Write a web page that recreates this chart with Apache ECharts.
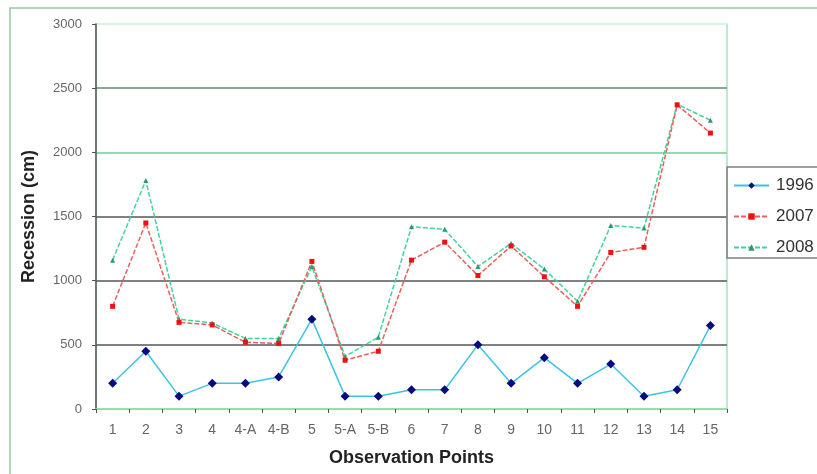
<!DOCTYPE html>
<html>
<head>
<meta charset="utf-8">
<script src="https://cdn.jsdelivr.net/npm/echarts@6/dist/echarts.min.js"></script>
<style>
  html, body { margin: 0; padding: 0; background: #ffffff; }
  #chart { width: 817px; height: 474px; }
</style>
</head>
<body>
<div id="chart"></div>
<script>
// Observation points along the shoreline
const categories = ['1', '2', '3', '4', '4-A', '4-B', '5', '5-A', '5-B', '6', '7', '8', '9', '10', '11', '12', '13', '14', '15'];

// Recession (cm) per survey year
const recession1996 = [200, 450, 100, 200, 200, 250, 700, 100, 100, 150, 150, 500, 200, 400, 200, 350, 100, 150, 650];
const recession2007 = [800, 1450, 675, 655, 520, 510, 1150, 380, 450, 1160, 1300, 1040, 1270, 1030, 800, 1220, 1260, 2370, 2150];
const recession2008 = [1160, 1780, 700, 670, 550, 550, 1110, 410, 560, 1420, 1400, 1110, 1290, 1090, 840, 1430, 1410, 2375, 2250];

const seriesNames = ['1996', '2007', '2008'];

// Horizontal guide colours, from 0 up to 3000
const gridLineColors = ['#9adcaa', '#808080', '#808080', '#808080', '#8fdcae', '#88a88f', '#d6f4de'];

const chart = echarts.init(document.getElementById('chart'), null, { renderer: 'canvas' });

const font = 'Arial, "Liberation Sans", Helvetica, sans-serif';

chart.setOption({
  animation: false,
  backgroundColor: '#ffffff',
  textStyle: { fontFamily: font },
  grid: {
    left: 96,
    right: 90,
    top: 24,
    bottom: 65,
    show: true,
    borderColor: '#a0e6c0',
    borderWidth: 1.5,
    backgroundColor: 'transparent'
  },
  legend: {
    orient: 'vertical',
    left: 728,
    top: 172,
    itemWidth: 35,
    itemHeight: 8,
    itemGap: 14,
    textStyle: { fontSize: 17, color: '#333', fontFamily: font, padding: [0, 0, 0, 2] },
    data: seriesNames
  },
  graphic: [
    // outer chart frame
    {
      type: 'rect',
      shape: { x: 10, y: 8, width: 900, height: 600 },
      style: { fill: 'none', stroke: '#98c8a0', lineWidth: 1.5 },
      silent: true,
      z: -1
    },
    // legend frame
    {
      type: 'polyline',
      shape: { points: [[817, 167], [727, 167], [727, 258], [817, 258]] },
      style: { fill: 'none', stroke: '#808080', lineWidth: 1.5 },
      silent: true
    }
  ],
  xAxis: {
    type: 'category',
    data: categories,
    boundaryGap: true,
    name: 'Observation Points',
    nameLocation: 'middle',
    nameGap: 40,
    nameTextStyle: { fontSize: 18, fontWeight: 'bold', color: '#222', fontFamily: font },
    axisLine: { show: true, lineStyle: { color: '#9adcaa', width: 1.5 } },
    axisTick: { show: true, alignWithLabel: false, length: 4, lineStyle: { color: '#555' } },
    axisLabel: { fontSize: 14, color: '#666', margin: 14, interval: 0 },
    splitLine: { show: false }
  },
  yAxis: {
    type: 'value',
    min: 0,
    max: 3000,
    interval: 500,
    name: 'Recession (cm)',
    nameLocation: 'middle',
    nameGap: 58,
    nameRotate: 90,
    nameTextStyle: { fontSize: 18, fontWeight: 'bold', color: '#222', fontFamily: font },
    axisLine: { show: true, lineStyle: { color: '#555', width: 1.5 } },
    axisTick: { show: true, length: 4, lineStyle: { color: '#555' } },
    axisLabel: { fontSize: 13, color: '#666', margin: 14, formatter: (v) => String(v) },
    splitLine: { show: true, lineStyle: { color: gridLineColors, width: 2 } }
  },
  series: [
    {
      name: seriesNames[0],
      type: 'line',
      data: recession1996,
      symbol: 'diamond',
      symbolSize: 9,
      itemStyle: { color: '#0a0a80' },
      lineStyle: { color: '#3cc4e4', width: 1.5 },
      z: 3
    },
    {
      name: seriesNames[1],
      type: 'line',
      data: recession2007,
      symbol: 'rect',
      symbolSize: 5,
      itemStyle: { color: '#f01010' },
      lineStyle: { color: '#e8605a', width: 1.5, type: [5, 2] },
      z: 4
    },
    {
      name: seriesNames[2],
      type: 'line',
      data: recession2008,
      symbol: 'triangle',
      symbolSize: 5,
      itemStyle: { color: '#2a9a6a' },
      lineStyle: { color: '#40d49c', width: 1.5, type: [5, 2] },
      z: 2
    }
  ]
});
</script>
</body>
</html>
